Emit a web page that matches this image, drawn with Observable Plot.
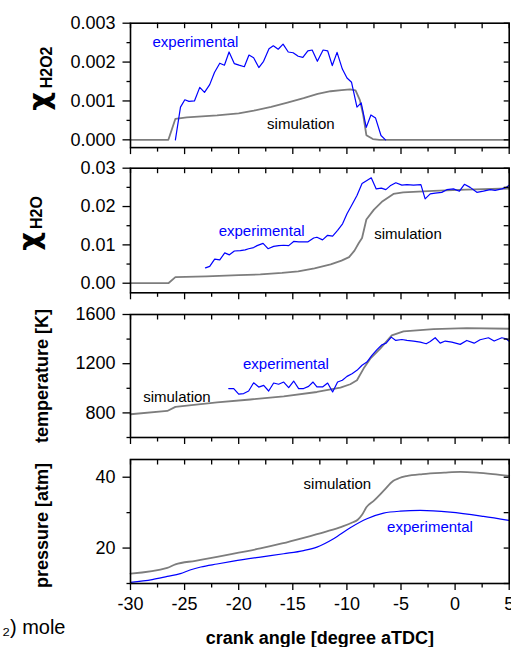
<!DOCTYPE html>
<html><head><meta charset="utf-8">
<script src="https://cdn.jsdelivr.net/npm/d3@7"></script>
<script src="https://cdn.jsdelivr.net/npm/@observablehq/plot@0.6"></script>
<style>
html,body{margin:0;padding:0;background:#fff;}
#chart{position:relative;width:511px;height:647px;overflow:hidden;}
#chart svg{position:absolute;left:0;top:0;}
</style></head><body><div id="chart"></div>
<script>
// ---- data ----
const crankMajor = [-30,-25,-20,-15,-10,-5,0,5];
const crankMinor = [-27.5,-22.5,-17.5,-12.5,-7.5,-2.5,2.5];

const h2o2Major = [0,0.001,0.002,0.003];
const h2o2Minor = [0.0005,0.0015,0.0025];
const h2oMajor = [0,0.01,0.02,0.03];
const h2oMinor = [0.005,0.015,0.025];
const tempMajor = [800,1200,1600];
const tempMinor = [600,1000,1400];
const presMajor = [20,40];
const presMinor = [10,30];

const h2o2Sim = [[-30,0],[-26.5,0],[-25.85,0.00054],[-24.8,0.00058],[-22,0.00063],[-20,0.00068],[-18.6,0.00075],[-17,0.00085],[-15.5,0.00096],[-14,0.00107],[-12.7,0.00118],[-11.5,0.00125],[-10.5,0.00128],[-9.7,0.0013],[-9.2,0.00127],[-8.8,0.00102],[-8.5,0.00065],[-8.2,0.00012],[-7.6,0.00002],[-7,0],[5,0]];
const h2o2Exp = [[-25.85,0],[-25.38,0.00084],[-24.98,0.00103],[-24.6,0.00099],[-24.09,0.001],[-23.6,0.00135],[-23.16,0.00122],[-22.68,0.00142],[-22.24,0.00173],[-21.75,0.00197],[-21.32,0.00192],[-20.89,0.00226],[-20.4,0.00196],[-19.97,0.00192],[-19.48,0.00188],[-19.05,0.00218],[-18.62,0.00211],[-18.14,0.00186],[-17.7,0.00202],[-17.2,0.00234],[-16.8,0.00242],[-16.35,0.00233],[-15.9,0.00246],[-15.42,0.00226],[-14.97,0.00224],[-14.5,0.00215],[-14.07,0.00212],[-13.61,0.00229],[-13.21,0.00231],[-12.73,0.00202],[-12.2,0.00231],[-11.78,0.00229],[-11.35,0.00191],[-10.91,0.00225],[-10.42,0.00182],[-9.99,0.00159],[-9.57,0.00148],[-9.07,0.00084],[-8.68,0.00095],[-8.21,0.00032],[-7.78,0.00064],[-7.35,0.00056],[-6.85,0.00011],[-6.43,0]];

const h2oSim = [[-30,0],[-26.5,0],[-25.85,0.0016],[-23,0.0018],[-20,0.0021],[-18,0.0023],[-16,0.0027],[-14.5,0.0031],[-13,0.0039],[-11.5,0.0049],[-10.5,0.0059],[-9.8,0.0068],[-9.3,0.0085],[-8.9,0.0105],[-8.6,0.0118],[-8.2,0.0166],[-7.5,0.0192],[-6.7,0.0214],[-5.7,0.0233],[-4.8,0.0237],[-2,0.0241],[1,0.0244],[5,0.0247]];
const h2oExp = [[-23.07,0.004],[-22.68,0.0044],[-22.22,0.0063],[-21.75,0.0061],[-21.29,0.0079],[-20.86,0.0074],[-20.4,0.0084],[-19.85,0.0085],[-19.4,0.0087],[-19.08,0.009],[-18.62,0.0093],[-18.3,0.0098],[-17.75,0.0104],[-17.29,0.009],[-16.77,0.0096],[-16.3,0.0098],[-15.84,0.0099],[-15.38,0.0098],[-14.92,0.0109],[-14.45,0.0108],[-14,0.0108],[-13.59,0.0108],[-13.07,0.0118],[-12.77,0.012],[-12.25,0.0113],[-11.78,0.0125],[-11.32,0.0123],[-10.86,0.0138],[-10.4,0.0155],[-9.99,0.0181],[-9.62,0.02],[-9.07,0.0229],[-8.6,0.026],[-8.15,0.0268],[-7.75,0.0275],[-7.29,0.0246],[-6.82,0.0248],[-6.4,0.0244],[-6.0,0.0254],[-5.48,0.0262],[-4.92,0.0256],[-4.45,0.0257],[-3.84,0.0256],[-3.16,0.0257],[-2.77,0.022],[-2.3,0.0233],[-1.84,0.0235],[-1.23,0.0237],[-0.77,0.0244],[-0.15,0.0246],[0.4,0.024],[0.86,0.0258],[1.39,0.025],[2.01,0.0237],[2.62,0.024],[3.24,0.0244],[3.7,0.0242],[4.32,0.0246],[4.72,0.025],[4.96,0.0255]];

const tempSim = [[-30,789],[-26.6,816],[-25.85,849],[-22,885],[-18.92,909],[-15.84,935],[-12.77,970],[-10.6,1006],[-9.69,1033],[-9.07,1065],[-8.46,1160],[-7.84,1241],[-6.92,1322],[-5.85,1430],[-4.77,1462],[-2,1481],[1.08,1489],[5,1484]];
const tempExp = [[-20.92,998],[-20.46,998],[-20,952],[-19.54,957],[-19.08,978],[-18.62,1045],[-18.15,1010],[-17.69,1024],[-17.23,978],[-16.77,1043],[-16.31,1033],[-15.84,1051],[-15.38,1006],[-14.92,1059],[-14.46,998],[-14,998],[-13.54,1016],[-13.13,1051],[-12.77,1011],[-12.25,1011],[-11.78,1043],[-11.32,970],[-10.86,1051],[-10.42,1065],[-9.99,1097],[-9.53,1119],[-9.07,1146],[-8.6,1187],[-8.15,1213],[-7.69,1268],[-7.22,1314],[-6.76,1354],[-6.37,1367],[-5.9,1416],[-5.48,1389],[-4.92,1397],[-4.45,1389],[-3.84,1384],[-3.22,1375],[-2.67,1362],[-2.3,1381],[-1.84,1411],[-1.38,1367],[-0.91,1384],[-0.3,1375],[0.47,1357],[1.08,1389],[1.76,1367],[2.31,1395],[3.08,1411],[3.61,1384],[4.32,1411],[4.72,1403],[4.96,1384]];

const presSim = [[-30,12.8],[-26.6,14.4],[-25.85,15.4],[-24,16.4],[-22,17.5],[-20,18.7],[-18,19.9],[-16,21.3],[-14,22.9],[-12,24.6],[-10.5,26.0],[-9.5,27.2],[-9,28.0],[-8.6,29.4],[-8.2,31.5],[-7.5,33.4],[-6.6,36.2],[-5.7,39.0],[-5.2,39.7],[-4.5,40.3],[-3,40.9],[-1,41.3],[0.5,41.5],[2,41.3],[3.5,40.9],[5,40.4]];
const presExp = [[-30,10.34],[-28,11.1],[-26.6,12.0],[-25.4,12.8],[-24.5,13.8],[-23.5,14.65],[-22,15.5],[-20.5,16.3],[-18,17.46],[-15.84,18.4],[-14,19.3],[-12.77,20.28],[-11.23,22.65],[-9.69,25.75],[-8.15,28.28],[-6.61,29.86],[-5.07,30.42],[-3.22,30.62],[-0.46,30.14],[2.62,28.93],[4.96,27.8]];

// ---- layout ----
const W = 511, H = 647, L = 130, R = 2.3;
const FONT = '"Liberation Sans", Arial, Helvetica, sans-serif';
const BLUE = "#0000ff", GRAY = "#7d7d7d";
const chart = document.getElementById("chart");

function panel(o) {
  const fh = o.bottom - o.top, fw = W - L - R;
  const allX = crankMajor.concat(crankMinor);
  const allY = o.majorY.concat(o.minorY);
  const marks = [];
  for (const s of o.series) {
    marks.push(Plot.line(s.data, {x: d => d[0], y: d => d[1], stroke: s.color, strokeWidth: s.width, curve: s.curve || "linear"}));
  }
  marks.push(
    Plot.frame({stroke: "black", strokeWidth: 1.6}),
    Plot.tickX(allX, {x: d => d, insetBottom: fh - 5.5, strokeWidth: 1.3}),
    Plot.tickX(crankMajor, {x: d => d, insetTop: fh, insetBottom: -7, strokeWidth: 1.3}),
    Plot.tickX(crankMinor, {x: d => d, insetTop: fh, insetBottom: -4.5, strokeWidth: 1.3}),
    Plot.tickY(o.majorY, {y: d => d, insetLeft: -7.5, insetRight: fw, strokeWidth: 1.3}),
    Plot.tickY(o.minorY, {y: d => d, insetLeft: -3.5, insetRight: fw, strokeWidth: 1.3}),
    Plot.tickY(allY, {y: d => d, insetLeft: fw - 5, strokeWidth: 1.3}),
    Plot.text(o.majorY, {y: d => d, text: o.fmt, frameAnchor: "left", dx: -15, textAnchor: "end", lineAnchor: "middle", fontSize: 18})
  );
  for (const n of o.notes) {
    marks.push(Plot.text([n.text], {x: () => n.x, y: () => n.y, text: d => d, textAnchor: "start", lineAnchor: "middle", fontSize: 15, fill: n.color}));
  }
  for (const t of o.titles) {
    marks.push(Plot.text([t.text], {text: d => d, frameAnchor: "left", dx: t.dx, dy: t.dy, rotate: -90, textAnchor: "middle", lineAnchor: "bottom", fontSize: t.size, fontWeight: "bold", fontFamily: t.font || FONT}));
  }
  if (o.xAxis) {
    marks.push(
      Plot.text(crankMajor, {x: d => d, text: d => String(d), frameAnchor: "bottom", dy: 21, lineAnchor: "middle", fontSize: 18}),
      Plot.text(["crank angle [degree aTDC]"], {text: d => d, frameAnchor: "bottom", dy: 60, lineAnchor: "bottom", fontSize: 18, fontWeight: "bold"}),
      Plot.text(["\u2082) mole"], {text: d => d, frameAnchor: "bottom-left", dx: -65, dy: 50, textAnchor: "end", lineAnchor: "bottom", fontSize: 20})
    );
  }
  const svg = Plot.plot({
    width: W, height: H,
    marginLeft: L, marginRight: R, marginTop: o.top, marginBottom: H - o.bottom,
    x: {domain: [-30, 5], axis: null},
    y: {domain: o.domain, axis: null},
    style: {background: "none", fontFamily: FONT, fontSize: "18px", overflow: "visible", color: "black"},
    marks
  });
  chart.appendChild(svg);
}

const CHI = '"DejaVu Sans", sans-serif';
panel({
  top: 22.7, bottom: 147.1, domain: [-0.0002, 0.003],
  majorY: h2o2Major, minorY: h2o2Minor, fmt: d => d.toFixed(3),
  series: [{data: h2o2Sim, color: GRAY, width: 1.8}, {data: h2o2Exp, color: BLUE, width: 1.2}],
  notes: [{text: "experimental", x: -27.97, y: 0.0025, color: BLUE}, {text: "simulation", x: -17.38, y: 0.00039, color: "black"}],
  titles: [{text: "\u03c7", dx: -82, dy: 16, size: 29, font: CHI}, {text: "H2O2", dx: -79, dy: -18, size: 16}]
});
panel({
  top: 167.7, bottom: 292.3, domain: [-0.0025, 0.03],
  majorY: h2oMajor, minorY: h2oMinor, fmt: d => d.toFixed(2),
  series: [{data: h2oSim, color: GRAY, width: 1.8}, {data: h2oExp, color: BLUE, width: 1.2}],
  notes: [{text: "experimental", x: -21.85, y: 0.01367, color: BLUE}, {text: "simulation", x: -7.47, y: 0.01284, color: "black"}],
  titles: [{text: "\u03c7", dx: -92, dy: 11, size: 29, font: CHI}, {text: "H2O", dx: -89, dy: -18, size: 16}]
});
panel({
  top: 314, bottom: 437, domain: [600, 1600],
  majorY: tempMajor, minorY: tempMinor, fmt: d => String(d),
  series: [{data: tempSim, color: GRAY, width: 1.8}, {data: tempExp, color: BLUE, width: 1.2}],
  notes: [{text: "experimental", x: -19.6, y: 1196, color: BLUE}, {text: "simulation", x: -28.83, y: 926, color: "black"}],
  titles: [{text: "temperature [K]", dx: -83, dy: 0, size: 18}]
});
panel({
  top: 459, bottom: 583, domain: [10, 45],
  majorY: presMajor, minorY: presMinor, fmt: d => String(d),
  series: [{data: presSim, color: GRAY, width: 1.8, curve: "monotone-x"}, {data: presExp, color: BLUE, width: 1.2, curve: "monotone-x"}],
  notes: [{text: "simulation", x: -14.0, y: 37.9, color: "black"}, {text: "experimental", x: -6.29, y: 25.8, color: BLUE}],
  titles: [{text: "pressure [atm]", dx: -83, dy: 4, size: 18}],
  xAxis: true
});
</script>
</body></html>
